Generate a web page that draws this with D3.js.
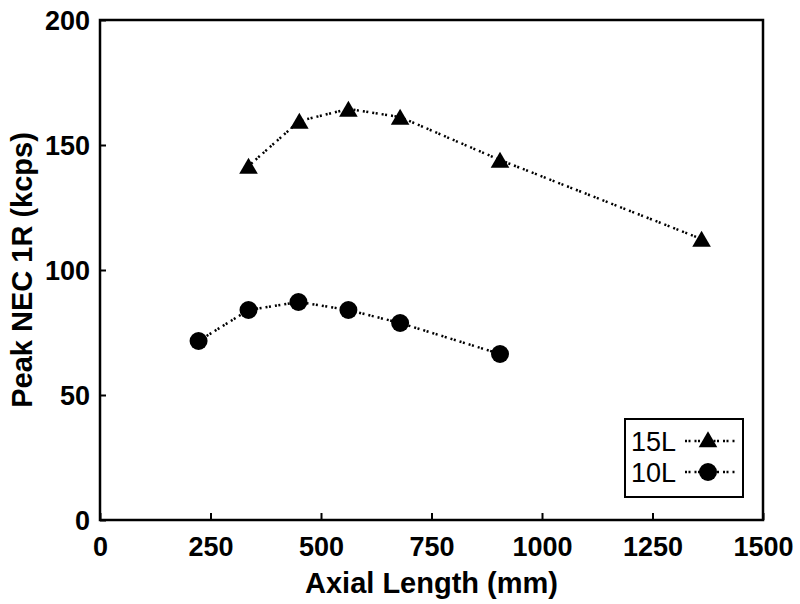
<!DOCTYPE html>
<html><head><meta charset="utf-8">
<script src="https://cdn.jsdelivr.net/npm/d3@7"></script>
<style>body{margin:0;background:#fff}</style>
</head><body>
<svg id="c" width="800" height="604"></svg>
<script>
const xTicks = [0, 250, 500, 750, 1000, 1250, 1500];
const yTicks = [0, 50, 100, 150, 200];
const len15 = [336, 451, 562, 679, 905, 1361];
const val15 = [141.6, 159.6, 164.4, 161.2, 144, 112.4];
const len10 = [223, 336, 449, 562, 679, 905];
const val10 = [71.6, 84, 87.2, 84, 78.8, 66.4];
const seriesNames = ["15L", "10L"];

const svg = d3.select("#c");
const L = 100, R = 763, T = 20, B = 520;
const x = d3.scaleLinear().domain([0, 1500]).range([L, R]);
const y = d3.scaleLinear().domain([0, 200]).range([B, T]);
const font = "'Liberation Sans', Arial, Helvetica, sans-serif";

svg.append("rect").attr("x", L).attr("y", T).attr("width", R - L).attr("height", B - T)
  .attr("fill", "none").attr("stroke", "#000").attr("stroke-width", 2.5);

const xa = svg.append("g").attr("transform", `translate(0,${B})`)
  .call(d3.axisBottom(x).tickValues(xTicks).tickSize(-7).tickPadding(17).tickFormat(d3.format("d")));
const ya = svg.append("g").attr("transform", `translate(${L},0)`)
  .call(d3.axisLeft(y).tickValues(yTicks).tickSize(-6).tickPadding(10).tickFormat(d3.format("d")));
[xa, ya].forEach(a => {
  a.select(".domain").remove();
  a.selectAll(".tick line").attr("stroke", "#000").attr("stroke-width", 2);
  a.selectAll("text").attr("font-family", font).attr("font-weight", "bold")
    .attr("font-size", 27).attr("fill", "#000");
});
xa.selectAll(".tick text").attr("dy", "0.71em");
ya.selectAll(".tick text").attr("dy", "0.36em");

svg.append("text").attr("x", (L + R) / 2).attr("y", 593).attr("text-anchor", "middle")
  .attr("font-family", font).attr("font-weight", "bold").attr("font-size", 29)
  .text("Axial Length (mm)");
svg.append("text").attr("transform", `translate(32,270) rotate(-90)`)
  .attr("text-anchor", "middle")
  .attr("font-family", font).attr("font-weight", "bold").attr("font-size", 29)
  .text("Peak NEC 1R (kcps)");

const dash = "2,1.5,2,4";
const line = d3.line().x(d => x(d[0])).y(d => y(d[1]));
const d15 = len15.map((v, i) => [v, val15[i]]);
const d10 = len10.map((v, i) => [v, val10[i]]);

[d15, d10].forEach(d => {
  svg.append("path").datum(d).attr("d", line).attr("fill", "none")
    .attr("stroke", "#000").attr("stroke-width", 2.5).attr("stroke-dasharray", dash);
});
const tri = d3.symbol().type(d3.symbolTriangle).size(150);
const triShift = 2.5;
svg.selectAll(".t").data(d15).enter().append("path")
  .attr("transform", d => `translate(${x(d[0])},${y(d[1]) + triShift})`).attr("d", tri).attr("fill", "#000");
svg.selectAll(".ci").data(d10).enter().append("circle")
  .attr("cx", d => x(d[0])).attr("cy", d => y(d[1])).attr("r", 9).attr("fill", "#000");

const lg = svg.append("g");
lg.append("rect").attr("x", 625).attr("y", 419).attr("width", 118).attr("height", 78)
  .attr("fill", "#fff").attr("stroke", "#000").attr("stroke-width", 2);
const rows = [441, 472];
seriesNames.forEach((n, i) => {
  lg.append("text").attr("x", 631).attr("y", rows[i] + 10).attr("font-family", font)
    .attr("font-size", 27).text(n);
  lg.append("line").attr("x1", 685).attr("x2", 735).attr("y1", rows[i]).attr("y2", rows[i])
    .attr("stroke", "#000").attr("stroke-width", 2.5).attr("stroke-dasharray", dash);
  if (i === 0) lg.append("path").attr("transform", `translate(708,${rows[i] + 1})`).attr("d", tri).attr("fill", "#000");
  else lg.append("circle").attr("cx", 708).attr("cy", rows[i]).attr("r", 9).attr("fill", "#000");
});
</script>
</body></html>
